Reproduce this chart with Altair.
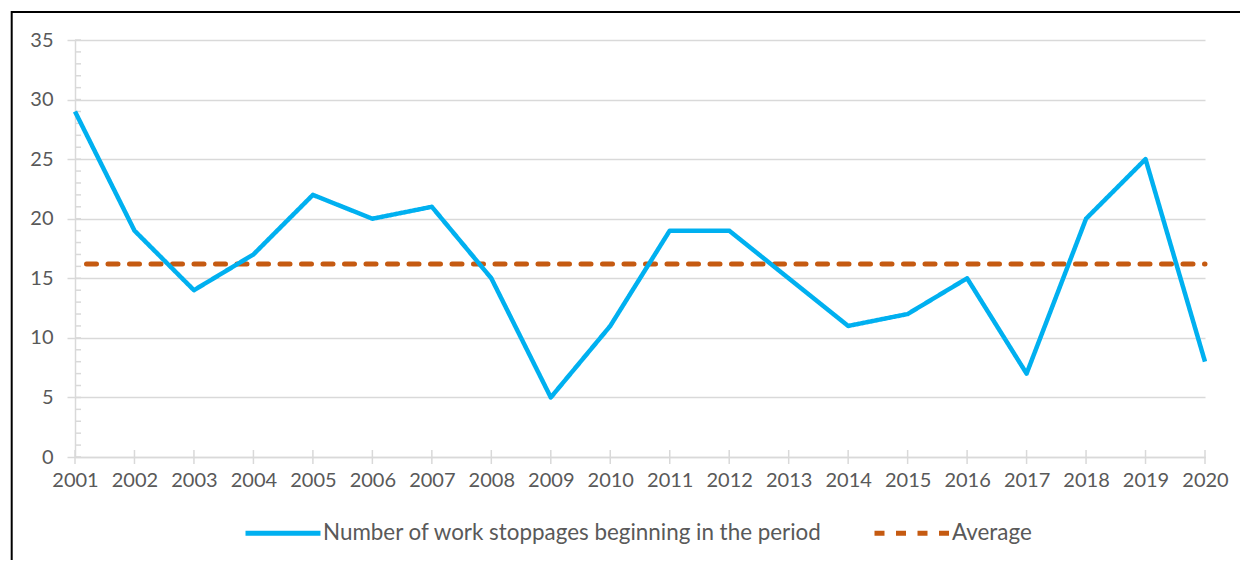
import altair as alt
import pandas as pd

# ---- data ----
YEARS = ["2001", "2002", "2003", "2004", "2005", "2006", "2007", "2008", "2009", "2010",
         "2011", "2012", "2013", "2014", "2015", "2016", "2017", "2018", "2019", "2020"]
STOPPAGES = [29, 19, 14, 17, 22, 20, 21, 15, 5, 11, 19, 19, 15, 11, 12, 15, 7, 20, 25, 8]
AVERAGE = 16.2
SERIES_MAIN = "Number of work stoppages beginning in the period"
SERIES_AVG = "Average"
Y_TICKS = [0, 5, 10, 15, 20, 25, 30, 35]
MINOR_TICKS = [0, 1, 2, 3, 4, 5, 6, 7, 8, 9, 10, 11, 12, 13, 14, 15, 16, 17, 18,
               19, 20, 21, 22, 23, 24, 25, 26, 27, 28, 29, 30, 31, 32, 33, 34, 35]

GRID = "#d9d9d9"
TEXT = "#595959"
BLUE = "#00B0F0"
ORANGE = "#C55A11"
FONT = "Lato"

main_df = pd.DataFrame({"year": YEARS, "value": STOPPAGES, "series": SERIES_MAIN})
avg_df = pd.DataFrame({"year": YEARS, "value": [AVERAGE] * len(YEARS), "series": SERIES_AVG})
minor_df = pd.DataFrame({"value": MINOR_TICKS})
frame_df = pd.DataFrame({"b": [0]})

x_axis = alt.Axis(title=None, labelAngle=0, ticks=False, domain=True, domainColor=GRID,
                  domainWidth=1.5, grid=False, labelPadding=13, labelFontSize=20,
                  labelColor=TEXT, labelFont=FONT)
x_scale = alt.Scale(type="point", padding=0)
y_axis = alt.Axis(title=None, values=Y_TICKS, grid=True, gridColor=GRID, gridWidth=1.5,
                  domain=True, domainColor=GRID, domainWidth=1.5, tickColor=GRID,
                  tickSize=8, tickWidth=1.5, labelPadding=14, labelFontSize=20,
                  labelColor=TEXT, labelFont=FONT)
y_scale = alt.Scale(domain=[0, 35], nice=False, zero=True)

legend = alt.Legend(title=None, orient="none", legendX=168, legendY=453,
                    direction="horizontal", symbolType="stroke", symbolSize=5625,
                    symbolStrokeWidth=5, labelOffset=0, columnPadding=41, labelLimit=0,
                    labelFontSize=22.4, labelColor=TEXT, labelFont=FONT)
color = alt.Color("series:N", scale=alt.Scale(domain=[SERIES_MAIN, SERIES_AVG],
                                              range=[BLUE, ORANGE]), legend=legend)
dash = alt.StrokeDash("series:N", scale=alt.Scale(domain=[SERIES_MAIN, SERIES_AVG],
                                                  range=[[1, 0], [10, 11.5]]), legend=legend)

X = alt.X("year:O", scale=x_scale, axis=x_axis, sort=YEARS)
Y = alt.Y("value:Q", scale=y_scale, axis=y_axis)

frame = alt.Chart(frame_df).mark_rect(fillOpacity=0, stroke="black", strokeWidth=2,
                                      clip=False).encode(
    x=alt.value(-63.3), x2=alt.value(1250), y=alt.value(-28), y2=alt.value(560))

minor = alt.Chart(minor_df).mark_rule(color=GRID, strokeWidth=1.5).encode(
    y=Y, x=alt.value(0), x2=alt.value(6))

xticks = alt.Chart(main_df).mark_rule(color=GRID, strokeWidth=1.5).encode(
    x=X, y=alt.value(410), y2=alt.value(424))

avg_line = alt.Chart(avg_df).mark_line(strokeWidth=5, strokeCap="round",
                                       strokeDashOffset=10).encode(
    x=X, y=Y, color=color, strokeDash=dash)

main_line = alt.Chart(main_df).mark_line(strokeWidth=4.5, strokeJoin="round").encode(
    x=X, y=Y, color=color, strokeDash=dash)

chart = alt.layer(frame, minor, xticks, avg_line, main_line).properties(
    width=1130, height=417,
    autosize=alt.AutoSizeParams(type="none"),
    padding={"left": 67, "top": 32, "right": 35, "bottom": 103},
).configure(font=FONT, background="white").configure_view(stroke=None)

chart.save("out.html", embed_options={"renderer": "svg", "actions": False})
